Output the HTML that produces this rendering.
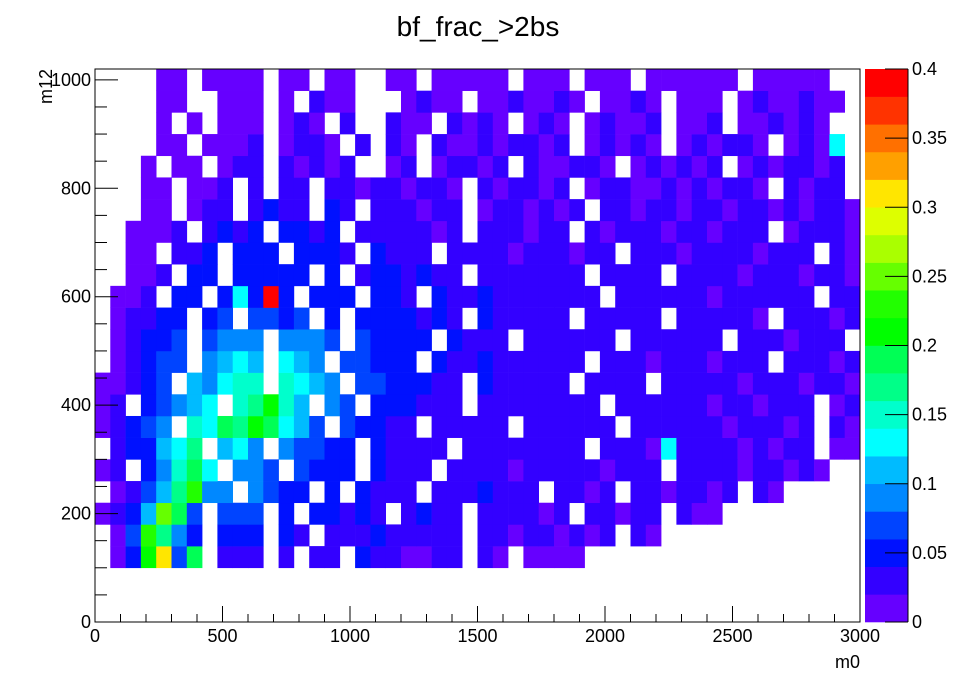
<!DOCTYPE html>
<html><head><meta charset="utf-8"><style>
html,body{margin:0;padding:0;background:#fff;}
svg{display:block;font-family:"Liberation Sans",sans-serif;}
</style></head><body>
<svg id="c" width="956" height="692" xmlns="http://www.w3.org/2000/svg">
<text x="478" y="36" font-size="28" text-anchor="middle">bf_frac_&gt;2bs</text>
<g id="cells"></g>
<g id="axes"></g>
<g id="cbar"></g>
<text x="860" y="668" font-size="18" text-anchor="end">m0</text>
<text transform="translate(52,69) rotate(-90)" font-size="18" text-anchor="end">m12</text>
</svg>
<script>
// data: rows bottom (y=100) to top, 50 columns of 60 units each; '.' = empty, 0-9,a-j = level
const xBinWidth = 60;
const yStart = 100;
const yBinWidth = 40;
const levelStep = 0.02;
const rows = [
".02af39.11"+"1.1.11.211"+"0011.10.00"+"00........"+"..........",
".03b842.22"+"2.21.11121"+"1111.11011"+"0101.10..."+"..........",
"0125c93.33"+"3.2.22121."+"1211.11110"+"1.11011.10"+"0.........",
".01358b44."+"4322.2.211"+"1.1112111."+"1101.11011"+"01.10.....",
"01.24796.4"+"43.3222.21"+"11.1111011"+"1110111.11"+"11011010..",
".122568.56"+"4.43322.21"+"111.111111"+"11.1110611"+"1101011.00",
"01234.7698"+"a9653.3221"+"1.11111.11"+"1111.11111"+"1011101.10",
"01.23456.7"+"8a75.43.22"+"2111.11111"+"111.111111"+"0110111.01",
"00123.5467"+"7.7654.332"+"2211.21111"+"1.1111.111"+"1101110110",
".01233.456"+"5.654.3322"+"2.21121111"+"11.1110111"+"0111.11101",
".01223.344"+"4.4443.322"+"22.2111.11"+"1111.11111"+"1.1110111.",
".01122.23."+"3323.2.222"+"2121.21111"+"1.11111.11"+"1110.11101",
".001.22.26"+"2j2.222.22"+"1.21121111"+"111.111111"+"0111111.11",
"..001.22.2"+"2222.2.122"+"1211.11111"+"11.1111.11"+"1101110110",
"..00.112.2"+"22.2221.21"+"11.1111011"+"1011.11101"+"1110111.10",
"..0001.121"+"2.2212.111"+"1101.11101"+"1.10111011"+"0111.01110",
"...00.011."+"1211.21.11"+"1011.01101"+"01.1101101"+"1011010110",
"...00.001."+"1.11.11011"+"0110.10110"+"1.01100101"+"0110.1011.",
"...0.00.01"+"1.10101..0"+"1.01101.10"+"0110.01010"+"1.0101101.",
"....00.000"+"1.0110.1.1"+"0.10010110"+"1.01010.01"+"0110.0106.",
"....0.0.00"+"0.010.1..1"+"00.1010.01"+"0.01001.00"+"1.001010..",
"....00..00"+"0.0.100..."+"0100.00100"+"10.0010.00"+"0.0100100.",
"....00.000"+"0.00.00..0"+"0.00000.00"+"0.000.0000"+"00.00000.."
];
const xTickLabels = [0,500,1000,1500,2000,2500,3000];
const yTickLabels = [0,200,400,600,800,1000];
const zTickLabels = [0,0.05,0.1,0.15,0.2,0.25,0.3,0.35,0.4];
const palette = ["#6600ff","#3300ff","#0011ff","#0044ff","#0088ff","#00bbff","#00ffff","#00ffcc","#00ff88","#00ff55","#00ff00","#22ff00","#66ff00","#aaff00","#ddff00","#ffe600","#ffa000","#ff7000","#ff3300","#ff0000"];

const NS="http://www.w3.org/2000/svg";
const L=95,R=860,T=69,B=622, XMAX=3000, YMAX=1020, ZMAX=0.4;
const sx=v=>L+v/XMAX*(R-L);
const sy=v=>B-v/YMAX*(B-T);
function mk(tag,attrs,parent){const e=document.createElementNS(NS,tag);for(const k in attrs)e.setAttribute(k,attrs[k]);parent.appendChild(e);return e;}
const codes="0123456789abcdefghij";
const cells=document.getElementById('cells');
rows.forEach((row,r)=>{
  for(let c=0;c<row.length;c++){
    const ch=row[c]; if(ch==='.')continue;
    const lvl=codes.indexOf(ch);
    const val=(lvl+0.5)*levelStep;
    const x0=c*xBinWidth,x1=x0+xBinWidth,y0=yStart+r*yBinWidth,y1=Math.min(y0+yBinWidth,YMAX);
    const idx=Math.min(palette.length-1,Math.floor(val/ZMAX*palette.length));
    const e=mk('rect',{x:sx(x0),y:sy(y1),width:sx(x1)-sx(x0)+0.3,height:sy(y0)-sy(y1)+0.3,fill:palette[idx]},cells);
    
    
  }
});
const ax=document.getElementById('axes');
mk('rect',{x:L,y:T,width:R-L,height:B-T,fill:'none',stroke:'#000','stroke-width':1},ax);
for(let v=0;v<=XMAX;v+=100){const len=v%500===0?16:8;mk('line',{x1:sx(v),x2:sx(v),y1:B,y2:B-len,stroke:'#000'},ax);}
for(let v=0;v<=YMAX;v+=50){const len=v%200===0?23:12;mk('line',{x1:L,x2:L+len,y1:sy(v),y2:sy(v),stroke:'#000'},ax);}
xTickLabels.forEach(v=>{const t=mk('text',{x:sx(v),y:B+20,'font-size':18,'text-anchor':'middle'},ax);t.textContent=v;

});
yTickLabels.forEach(v=>{const t=mk('text',{x:L-4,y:sy(v)+6,'font-size':18,'text-anchor':'end'},ax);t.textContent=v;

});
const cb=document.getElementById('cbar');
const CL=865,CR=908;
const sz=v=>B-v/ZMAX*(B-T);
palette.forEach((col,i)=>{const e=mk('rect',{x:CL,y:sz((i+1)*ZMAX/palette.length),width:CR-CL,height:sz(i*ZMAX/palette.length)-sz((i+1)*ZMAX/palette.length)+0.3,fill:col},cb);

});
mk('line',{x1:CR,x2:CR,y1:T,y2:B,stroke:'#000'},cb);
zTickLabels.forEach(v=>{mk('line',{x1:CR-23,x2:CR,y1:sz(v),y2:sz(v),stroke:'#000'},cb);
const t=mk('text',{x:CR+4,y:sz(v)+6,'font-size':18},cb);t.textContent=v;

});
</script>
</body></html>
